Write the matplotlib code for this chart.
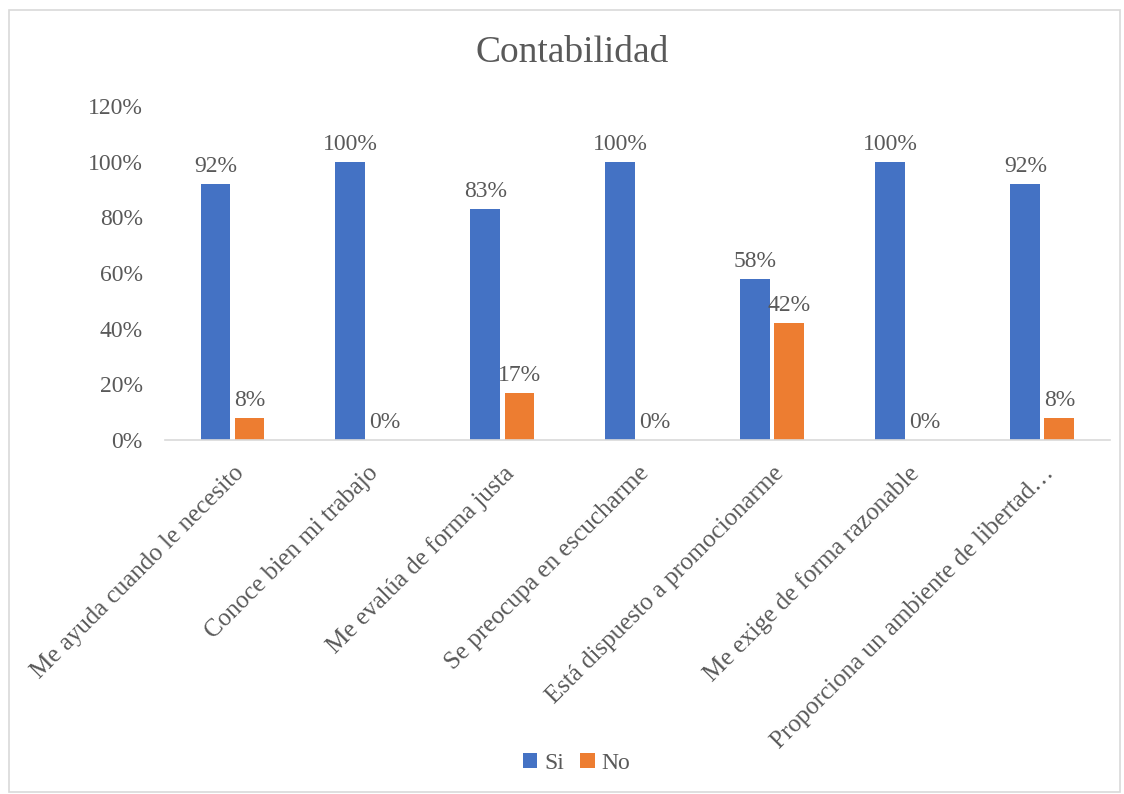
import matplotlib.pyplot as plt
import numpy as np
from matplotlib.ticker import FuncFormatter

plt.rcParams['font.family'] = ['Liberation Serif', 'DejaVu Serif']

categorias = ['Me ayuda cuando le necesito',
              'Conoce bien mi trabajo',
              'Me evalúa de forma justa',
              'Se preocupa en escucharme',
              'Está dispuesto a promocionarme',
              'Me exige de forma razonable',
              'Proporciona un ambiente de libertad…']
si = [0.92, 1.00, 0.83, 1.00, 0.58, 1.00, 0.92]
no = [0.08, 0.00, 0.17, 0.00, 0.42, 0.00, 0.08]

gris = '#595959'
azul = '#4472C4'
naranja = '#ED7D31'

fig = plt.figure(figsize=(11.24, 7.94), dpi=100)
# borde gris del gráfico
fig.patches.append(plt.Rectangle((0.008, 0.003), 0.988, 0.984, transform=fig.transFigure,
                                 fill=False, edgecolor='#d9d9d9', linewidth=1.2))
ax = fig.add_axes([0.1468, 0.4458, 0.8407, 0.4207])

x = np.arange(len(categorias))
w = 0.222
gap = 0.03
b1 = ax.bar(x - (w + gap) / 2, si, width=w, color=azul, label='Si')
b2 = ax.bar(x + (w + gap) / 2, no, width=w, color=naranja, label='No')

for bars in (b1, b2):
    for r in bars:
        h = r.get_height()
        ax.text(r.get_x() + r.get_width() / 2, h + 0.025, '%d%%' % round(h * 100),
                ha='center', va='bottom', fontsize=17, color=gris)

ax.set_xlim(-0.5, len(categorias) - 0.5)
ax.set_ylim(0, 1.2)
ax.set_yticks(np.arange(0, 1.21, 0.2))
ax.yaxis.set_major_formatter(FuncFormatter(lambda v, p: '%d%%' % round(v * 100)))
ax.set_xticks(x)
ax.set_xticklabels(categorias, rotation=45, ha='right', rotation_mode='anchor')
ax.tick_params(axis='both', length=0, labelsize=17, labelcolor=gris)
ax.tick_params(axis='x', labelsize=18, pad=16)
ax.tick_params(axis='y', pad=16)
for s in ['top', 'right', 'left']:
    ax.spines[s].set_visible(False)
ax.spines['bottom'].set_color('#d9d9d9')
ax.spines['bottom'].set_linewidth(1.2)

fig.text(0.509, 0.933, 'Contabilidad', ha='center', va='center', fontsize=27, color=gris)
fig.legend(loc='center', bbox_to_anchor=(0.513, 0.039), ncol=2, frameon=False,
           fontsize=17, labelcolor=gris, handlelength=0.6, handleheight=0.6,
           handletextpad=0.3, columnspacing=0.7)

fig.savefig('out.png', dpi=100)
